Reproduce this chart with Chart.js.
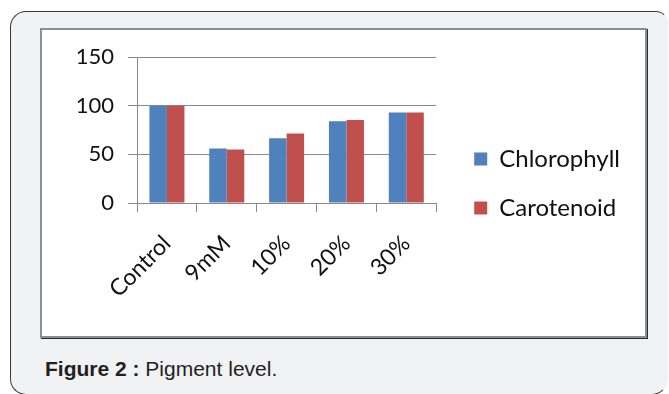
<!DOCTYPE html>
<html>
<head>
<meta charset="utf-8">
<script src="https://cdn.jsdelivr.net/npm/chart.js@4/dist/chart.umd.min.js"></script>
<style>
  html, body { margin: 0; padding: 0; background: #ffffff; }
  body { width: 669px; height: 394px; position: relative; overflow: hidden; }
  .frame {
    position: absolute; left: 10px; top: 11px; width: 658px; height: 384px;
    box-sizing: border-box; border: 1px solid #3a3a3a; border-right-color: #f1f2f4;
    border-radius: 16px 12px 16px 16px; background: #f1f2f4;
  }
  .plotbox {
    position: absolute; left: 40px; top: 28px; width: 607px; height: 310px;
    box-sizing: border-box; border: 2px solid #8e8e8e; background: #ffffff;
    box-shadow: 1px 1px 0 #2a2a2a;
  }
  .plotbox canvas { display: block; }
  .caption {
    position: absolute; left: 45px; top: 357px; font-family: "Liberation Sans", Arial, sans-serif;
    font-size: 21px; line-height: 24px; color: #231f20;
  }
  .caption b { font-weight: bold; }
</style>
</head>
<body>
<div class="frame"></div>
<div class="plotbox"><canvas id="chart" width="603" height="306"></canvas></div>
<div class="caption"><b>Figure 2 :</b> Pigment level.</div>
<script>
// Pigment levels (% of control) per treatment
const categories = ['Control', '9mM', '10%', '20%', '30%'];
const chlorophyll = [100, 56, 66.5, 84, 93];
const carotenoid = [100, 55, 71.5, 85.5, 93];
const yTicks = [0, 50, 100, 150];

const gridColor = '#8a8a8a';
const yFont = { family: 'Lato', size: 22 };
const xFont = { family: 'Lato', size: 23 };
const legendFont = { family: 'Lato', size: 24 };

// Nudge the legend block right/up so it sits clear of the plot
const legendOffset = {
  id: 'legendOffset',
  afterLayout(chart) {
    const lg = chart.legend;
    if (!lg) return;
    const dx = 13, dy = -13;
    lg.left += dx; lg.right += dx;
    lg.top += dy; lg.bottom += dy;
  }
};

function draw() {
  new Chart(document.getElementById('chart'), {
    type: 'bar',
    data: {
      labels: categories,
      datasets: [
        { label: 'Chlorophyll', data: chlorophyll, backgroundColor: '#4F81BD',
          categoryPercentage: 0.585, barPercentage: 1.0 },
        { label: 'Carotenoid', data: carotenoid, backgroundColor: '#C0504D',
          categoryPercentage: 0.585, barPercentage: 1.0 }
      ]
    },
    options: {
      responsive: false,
      animation: false,
      layout: { padding: { top: 27, left: 0, right: 28, bottom: 0 } },
      plugins: {
        tooltip: { enabled: false },
        legend: {
          position: 'right',
          maxWidth: 400,
          labels: {
            boxWidth: 13, boxHeight: 13, padding: 25,
            color: '#111', font: legendFont
          }
        }
      },
      scales: {
        x: {
          grid: { offset: true, drawOnChartArea: false, drawTicks: true, tickLength: 9, color: gridColor },
          border: { color: gridColor },
          ticks: { color: '#111', font: xFont, maxRotation: 45, minRotation: 45, padding: 18 },
          afterFit: (s) => { s.height = 133; }
        },
        y: {
          min: 0, max: 150,
          afterBuildTicks: (s) => { s.ticks = yTicks.map(v => ({ value: v })); },
          grid: { color: gridColor, tickLength: 9 },
          border: { color: gridColor },
          ticks: { color: '#111', font: yFont, padding: 14 },
          afterFit: (s) => { s.width = 95; }
        }
      }
    },
    plugins: [legendOffset]
  });
}

if (document.fonts && document.fonts.load) {
  Promise.all([document.fonts.load('22px Lato'), document.fonts.load('24px Lato')]).then(draw, draw);
} else {
  draw();
}
</script>
</body>
</html>
